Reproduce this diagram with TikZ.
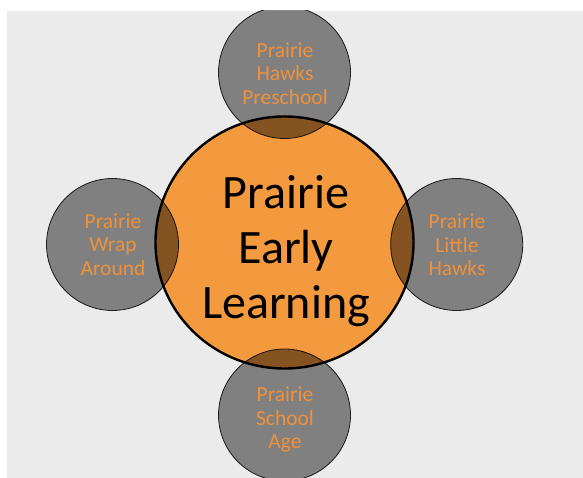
\documentclass[tikz,border=0pt]{standalone}
\usepackage{fontspec}
\setmainfont{Carlito}
\usetikzlibrary{shapes.geometric}
\definecolor{bg}{HTML}{EBEBEB}
\definecolor{core}{HTML}{F39A3E}
\definecolor{lbl}{HTML}{F0913A}
\begin{document}
\begin{tikzpicture}[x=1pt,y=-1pt,
  hub/.style={ellipse, draw=black, line width=2.4pt, fill=core,
    minimum width=258pt, minimum height=252pt, inner sep=0pt},
  sat/.style={circle, draw=black, draw opacity=0.85, line width=0.8pt,
    fill=black, fill opacity=0.455, minimum size=132pt, inner sep=0pt},
  hubtext/.style={align=center, font=\fontsize{48}{55}\selectfont, text=black},
  sattext/.style={align=center, font=\fontsize{21.5}{23.6}\selectfont, text=lbl}]
\useasboundingbox (0,0) rectangle (583,478);
\fill[bg] (7,11) rectangle (583,478);
\begin{scope}
\clip (7,11) rectangle (583,478);
\node[hub] (hub) at (284.5,242.5) {};
\node[hubtext] (hubtxt) at (286,251.5) {Prairie\\Early\\Learning};
\node[sat] (north) at (284.5,72.5) {};
\node[sat] (south) at (284.5,415) {};
\node[sat] (west) at (112.5,244.5) {};
\node[sat] (east) at (456.7,244.5) {};
\node[sattext] (northtxt) at (285,73.5) {Prairie\\Hawks\\Preschool};
\node[sattext] (southtxt) at (285,419.5) {Prairie\\School\\Age};
\node[sattext] (westtxt) at (113,244.5) {Prairie\\Wrap\\Around};
\node[sattext] (easttxt) at (457,245) {Prairie\\Little\\Hawks};
\end{scope}
\end{tikzpicture}
\end{document}
